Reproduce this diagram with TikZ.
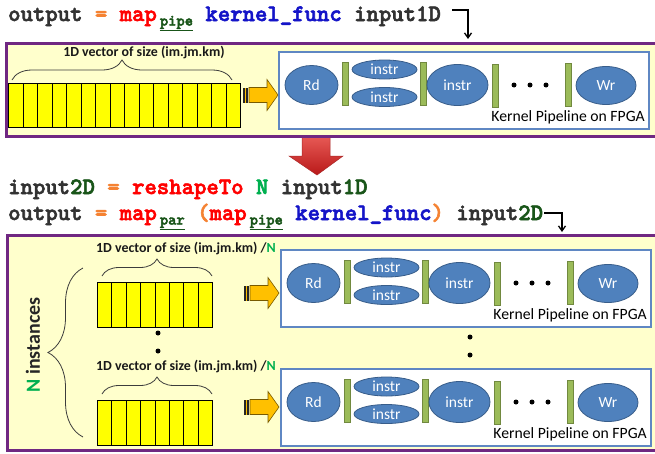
\documentclass[tikz,border=0pt]{standalone}
\usepackage{fontspec}
\setmainfont{Carlito}
\newfontfamily\codefont{lmmonolt10-bold}[Extension=.otf, FakeBold=2.5]
\usetikzlibrary{decorations.pathreplacing,arrows.meta,shapes.geometric,calc}

\definecolor{purp}{RGB}{112,40,130}
\definecolor{panelbg}{RGB}{255,255,204}
\definecolor{cellY}{RGB}{255,255,0}
\definecolor{ellfill}{RGB}{79,129,189}
\definecolor{elldraw}{RGB}{56,93,138}
\definecolor{barfill}{RGB}{155,187,89}
\definecolor{bardraw}{RGB}{113,137,63}
\definecolor{pipeborder}{RGB}{95,135,195}
\definecolor{codegray}{RGB}{50,50,50}
\definecolor{codeorange}{RGB}{245,130,50}
\definecolor{codered}{RGB}{255,0,0}
\definecolor{codeblue}{RGB}{20,20,200}
\definecolor{codedkgreen}{RGB}{25,85,25}
\definecolor{codegreen}{RGB}{0,176,80}
\definecolor{arrorange}{RGB}{255,192,0}
\definecolor{arrdraw}{RGB}{120,90,0}
\definecolor{bracecol}{RGB}{60,60,60}
\definecolor{redtop}{RGB}{235,95,90}
\definecolor{redbot}{RGB}{185,25,25}
\definecolor{reddraw}{RGB}{170,40,40}

\newcommand\subc[1]{\hspace{3pt}\raisebox{-4.5pt}{\textcolor{codedkgreen}{\fontsize{15.8}{16}\selectfont\underline{#1}}}}
\newcommand\stripedarrow[3]{% name, x (tail), y (centre)
  \begin{scope}[shift={(#2,#3)}]
    \fill[black!85] (0,-7.5) rectangle (5,7.5);
    \fill[arrorange] (2,-7.5) rectangle (3,7.5);
    \draw[arrdraw, fill=arrorange, line width=0.6pt] (6,-7.5) -- (24,-7.5) -- (24,-15.5) -- (35,0) -- (24,15.5) -- (24,7.5) -- (6,7.5) -- cycle;
    \coordinate (#1) at (35,0);
  \end{scope}}
\newcommand\pipeline[3]{% name, x, y (top left)
  \begin{scope}[shift={(#2,#3)}]
    \node[pipebox, anchor=north west] (#1) at (0,0) {};
    \node[ell, minimum width=53pt, minimum height=39pt] (#1-rd) at (33.5,34) {Rd};
    \node[stagebar, minimum height=43pt] (#1-b1) at (67,32.5) {};
    \node[ell, minimum width=65pt, minimum height=19pt] (#1-i1) at (106.5,18.5) {instr};
    \node[ell, minimum width=65pt, minimum height=19pt] (#1-i2) at (106.5,46) {instr};
    \node[stagebar, minimum height=43pt] (#1-b2) at (145,32.5) {};
    \node[ell, minimum width=61pt, minimum height=41pt] (#1-i3) at (179.5,34) {instr};
    \node[stagebar, minimum height=43pt] (#1-b3) at (217,34.5) {};
    \foreach \d in {236,252,268} \fill (\d,34) circle (2.5);
    \node[stagebar, minimum height=43pt] (#1-b4) at (290.5,34) {};
    \node[ell, minimum width=60pt, minimum height=38pt] (#1-wr) at (328,34.5) {Wr};
    \node[anchor=east, inner sep=0pt, font=\fontsize{15.7}{16}\selectfont] (#1-lbl) at (367,66) {Kernel Pipeline on FPGA};
  \end{scope}}

\tikzset{
  code/.style={font=\codefont\fontsize{23.6}{24}\selectfont, inner sep=0pt, anchor=base west},
  panelbox/.style={draw=purp, line width=2.5pt, fill=panelbg, anchor=north west},
  cellbox/.style={draw=black, line width=0.8pt, fill=cellY, minimum width=14.5pt, anchor=north west, inner sep=0pt},
  pipebox/.style={draw=pipeborder, line width=1.5pt, fill=white, minimum width=370pt, minimum height=77pt},
  ell/.style={ellipse, draw=elldraw, line width=0.8pt, fill=ellfill, text=white, inner sep=0pt, font=\fontsize{15.5}{15.5}\selectfont},
  stagebar/.style={draw=bardraw, line width=0.8pt, fill=barfill, minimum width=6pt, inner sep=0pt},
  brace/.style={decorate, decoration={brace, amplitude=#1}, draw=bracecol, line width=0.8pt},
  veclabel/.style={font=\bfseries\fontsize{13.9}{14}\selectfont, text=black!90, inner sep=0pt},
  thinarrow/.style={draw=black, line width=1.3pt, -{Straight Barb[length=5pt,width=7pt]}},
}

\begin{document}
\begin{tikzpicture}[x=1pt, y=-1pt]
\useasboundingbox (0,0) rectangle (655,453);
\fill[white] (0,0) rectangle (655,453);

% code lines
\node[code] (line1) at (8,21) {\textcolor{codegray}{output} \textcolor{codeorange}{=} \textcolor{codered}{map}\subc{pipe} \textcolor{codeblue}{kernel\_func} \textcolor{codegray}{input1D}};
\coordinate (a1s) at (452,10);
\coordinate (a1e) at (468,39);
\draw[thinarrow] (a1s) -| (a1e);

% red transform arrow (drawn before the panel so the border covers its top)
\shade[top color=redtop, bottom color=redbot, draw=reddraw, line width=0.5pt]
  (302,133) -- (330,133) -- (330,156) -- (343,156) -- (317,175) -- (289,156) -- (302,156) -- cycle;

% top panel
\node[panelbox, minimum width=660pt, minimum height=93pt] (panel1) at (5,42) {};
\foreach \i in {0,...,15} \node[cellbox, minimum height=44pt] (ca\i) at (8+14.5*\i,83) {};
\draw[brace=20pt] (12,80) -- (232,80);
\node[veclabel] (lab1) at (144,53) {1D vector of size (im.jm.km)};
\stripedarrow{arr1}{243}{95}
\pipeline{pipe1}{278}{51}

% lines 2 and 3
\node[code] (line2) at (8,194) {\textcolor{codegray}{input}\textcolor{codedkgreen}{2D} \textcolor{codeorange}{=} \textcolor{codered}{reshapeTo} \textcolor{codegreen}{N} \textcolor{codegray}{input}\textcolor{codedkgreen}{1D}};
\node[code] (line3) at (8,220) {\textcolor{codegray}{output} \textcolor{codeorange}{=} \textcolor{codered}{map}\subc{par} \textcolor{codeorange}{(}\textcolor{codered}{map}\subc{pipe} \textcolor{codeblue}{kernel\_func}\textcolor{codeorange}{)} \textcolor{codegray}{input}\textcolor{codedkgreen}{2D}};
\coordinate (a3s) at (544,213);
\coordinate (a3e) at (562,232);
\draw[thinarrow] (a3s) -| (a3e);

% bottom panel
\node[panelbox, minimum width=660pt, minimum height=215pt] (panel2) at (6,234) {};

% instance 1
\foreach \i in {0,...,7} \node[cellbox, minimum height=45pt] (cb\i) at (97+14.4*\i,282) {};
\draw[brace=17pt] (102,276) -- (212,276);
\node[veclabel] (lab2) at (186,249) {1D vector of size (im.jm.km) /\textcolor{codegreen}{N}};
\stripedarrow{arr2}{244}{293}
\pipeline{pipe2}{280}{249}

% instance 2
\foreach \i in {0,...,7} \node[cellbox, minimum height=45pt] (cc\i) at (97+14.4*\i,400) {};
\draw[brace=17pt] (102,394) -- (212,394);
\node[veclabel] (lab3) at (186,367) {1D vector of size (im.jm.km) /\textcolor{codegreen}{N}};
\stripedarrow{arr3}{244}{407}
\pipeline{pipe3}{280}{368}

% vertical ellipsis dots
\foreach \yy in {333,351} \fill (158,\yy) circle (2.5);
\foreach \yy in {337,355} \fill (470,\yy) circle (2.5);

% big brace and label
\draw[brace=35pt] (83,437) -- (83,268);
\node[rotate=90, font=\bfseries\fontsize{20}{20}\selectfont, text=black!85, inner sep=0pt] (ninst) at (33,345) {\textcolor{codegreen}{N} instances};
\end{tikzpicture}
\end{document}
